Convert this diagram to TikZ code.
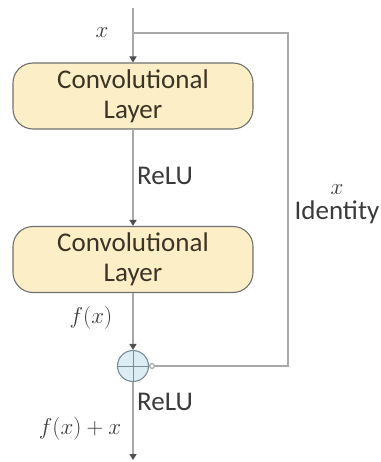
\RequirePackage{fix-cm}
\documentclass[tikz,border=0pt]{standalone}
\usepackage{fontspec}
\setmainfont{Carlito}
\usetikzlibrary{arrows.meta}
\definecolor{wire}{HTML}{A8A8A8}
\definecolor{tipc}{HTML}{4F4F4F}
\definecolor{boxfill}{HTML}{FCEFC8}
\definecolor{boxline}{HTML}{707070}
\definecolor{addfill}{HTML}{DCEEF3}
\definecolor{addline}{HTML}{7A8C94}
\definecolor{txt}{HTML}{3A3A3A}
\definecolor{boxtxt}{HTML}{3B3424}
\tikzset{
  wireline/.style={draw=wire, line width=1.6pt},
  flow/.style={wireline, -{Triangle[width=7pt,length=6pt,color=tipc]}},
  layerbox/.style={draw=boxline, line width=1.1pt, fill=boxfill, rounded corners=20pt,
    minimum width=240pt, minimum height=66pt, align=center, text=boxtxt,
    font=\fontsize{27}{30}\selectfont, inner sep=0pt},
  addnode/.style={circle, draw=addline, line width=1.1pt, fill=addfill, minimum size=31pt, inner sep=0pt},
  lbl/.style={text=txt, font=\fontsize{27}{30}\selectfont, inner sep=0pt},
  mlbl/.style={text=txt, font=\fontsize{23}{26}\selectfont, inner sep=0pt},
}
\begin{document}
\begin{tikzpicture}[x=1pt,y=-1pt]
\useasboundingbox (0,0) rectangle (380,462);
% main path
\coordinate (in) at (133,8);
\coordinate (split) at (133,33);
\node[layerbox] (conv1) at (133,96) {Convolutional\\Layer};
\node[layerbox] (conv2) at (133,259.5) {Convolutional\\Layer};
\node[addnode] (add) at (133,366) {};
\coordinate (out) at (133,460);
% plus sign inside the adder
\draw[addline, line width=1pt] (add.north) -- (add.south) (add.west) -- (add.east);
% identity shortcut corners
\coordinate (c1) at (288,33);
\coordinate (c2) at (288,366);

\draw[wireline] (in) -- (split);
\draw[flow] (split) -- (conv1.north);
\draw[flow] (conv1) -- (conv2);
\draw[flow] (conv2) -- (add);
\draw[flow] (add) -- (out);
\draw[wireline, -{Circle[open,length=6pt,fill=white,color=wire,line width=1.2pt]}] (split) -- (c1) -- (c2) -- (add.east);

% labels
\node[mlbl] (lx) at (102,33) {$x$};
\node[lbl, anchor=west] (relu1) at (137,176) {ReLU};
\node[mlbl] (lfx) at (91,318) {$f(x)$};
\node[lbl, anchor=west] (relu2) at (137,402) {ReLU};
\node[mlbl] (lsum) at (80,429) {$f(x)+x$};
\node[mlbl] (rx) at (337,190) {$x$};
\node[lbl, anchor=east] (ident) at (379.5,212) {Identity};
\end{tikzpicture}
\end{document}
